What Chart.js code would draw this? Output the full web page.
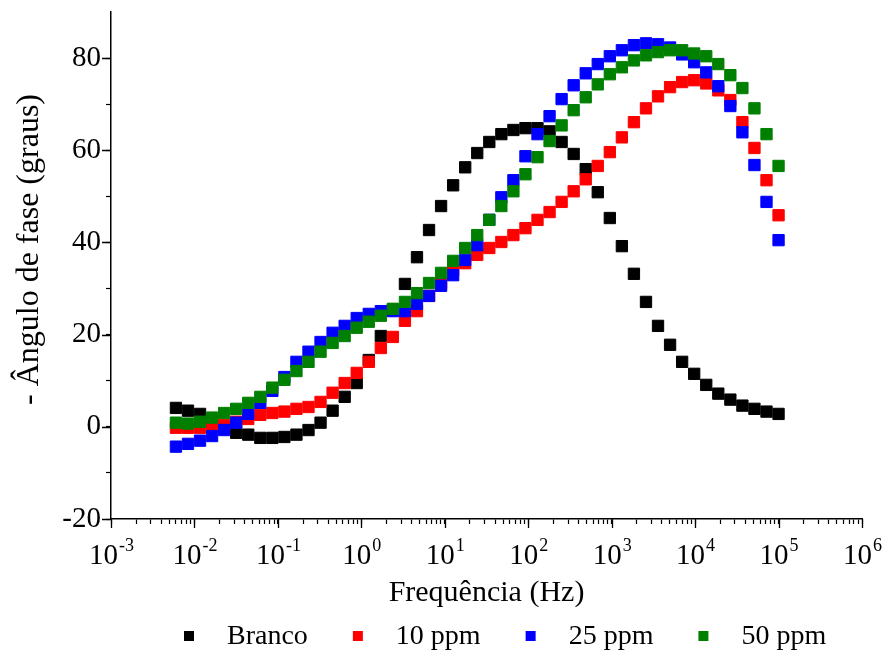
<!DOCTYPE html>
<html lang="pt">
<head>
    <meta charset="UTF-8">
    <title>Ângulo de fase x Frequência</title>
    <script src="https://cdn.jsdelivr.net/npm/chart.js"></script>
    <style>
        body {
            margin: 0;
            background-color: #ffffff;
        }
        #wrap {
            width: 885px;
            height: 653px;
        }
    </style>
</head>
<body>
    <div id="wrap">
        <canvas id="faseChart"></canvas>
    </div>

    <script>
        // frequencias da varredura (Hz), de 100 kHz ate 6 mHz
        const freqHz = [
            100000, 71707, 51420, 36872, 26440, 18959, 13595, 9749, 6990, 5013,
            3594, 2578, 1848, 1325, 950.4, 681.5, 488.7, 350.4, 251.3, 180.2,
            129.2, 92.65, 66.44, 47.64, 34.16, 24.49, 17.57, 12.60, 9.032, 6.477,
            4.644, 3.330, 2.388, 1.712, 1.228, 0.8805, 0.6314, 0.4527, 0.3246, 0.2328,
            0.1669, 0.1197, 0.08584, 0.06155, 0.04414, 0.03165, 0.02270, 0.01627, 0.01167, 0.008368,
            0.006
        ];

        // - angulo de fase (graus) lido para cada frequencia
        const branco = [
            2.8, 3.3, 3.9, 4.6, 5.9, 7.2, 9.1, 11.5, 14.1, 17.8,
            21.9, 27.1, 33.2, 39.2, 45.3, 50.9, 55.9, 59.2, 61.8, 64.1,
            64.8, 64.8, 64.4, 63.5, 61.8, 59.4, 56.3, 52.4, 47.9, 42.7,
            36.8, 31.0, 25.4, 19.7, 14.5, 9.5, 6.5, 3.5, 0.9, -0.7,
            -1.7, -2.2, -2.4, -2.4, -1.7, -1.3, -0.2, 1.2, 2.8, 3.5,
            4.1
        ];
        const ppm10 = [
            45.9, 53.5, 60.5, 66.1, 70.9, 73.0, 74.5, 75.2, 74.8, 73.7,
            71.7, 69.1, 66.1, 62.8, 59.6, 56.6, 53.7, 51.1, 48.8, 46.6,
            44.9, 43.1, 41.6, 40.1, 38.8, 37.3, 35.5, 34.0, 31.2, 28.4,
            25.1, 23.0, 19.5, 17.1, 14.1, 11.7, 9.5, 7.4, 5.4, 4.3,
            3.9, 3.3, 3.0, 2.6, 1.7, 1.1, 0.4, 0.0, -0.2, -0.2,
            -0.2
        ];
        const ppm25 = [
            40.5, 48.8, 56.8, 63.9, 69.6, 73.9, 76.9, 79.1, 80.8, 82.3,
            83.0, 83.2, 82.8, 81.7, 80.4, 78.7, 76.7, 74.1, 71.1, 67.4,
            63.5, 58.7, 53.5, 49.8, 44.9, 39.4, 36.2, 32.9, 30.6, 28.4,
            26.7, 25.1, 25.1, 25.1, 24.5, 23.6, 21.9, 20.4, 18.4, 16.3,
            14.1, 10.8, 7.8, 5.2, 2.8, 0.9, -0.7, -2.0, -3.0, -3.7,
            -4.3
        ];
        const ppm50 = [
            56.6, 63.5, 69.1, 73.5, 76.3, 78.7, 80.4, 81.0, 81.7, 81.7,
            81.3, 80.6, 79.5, 78.0, 76.5, 74.3, 71.5, 68.7, 65.4, 62.0,
            58.5, 54.8, 51.1, 47.9, 44.9, 41.6, 38.8, 36.0, 33.4, 31.2,
            29.0, 27.1, 25.6, 24.1, 22.8, 21.5, 19.7, 18.2, 16.3, 14.1,
            12.1, 10.2, 8.5, 6.5, 5.2, 3.9, 3.0, 2.0, 1.1, 0.7,
            0.9
        ];

        const seriesNames = ['Branco', '10 ppm', '25 ppm', '50 ppm'];
        const seriesColors = ['#000000', '#ff0000', '#0000ff', '#008000'];

        const xDecades = [-3, -2, -1, 0, 1, 2, 3, 4, 5, 6];
        const yTickValues = [-20, -10, 0, 10, 20, 30, 40, 50, 60, 70, 80];
        const yLabelValues = [-20, 0, 20, 40, 60, 80];
        const yTitle = '- Ângulo de fase (graus)';

        const serif = "'Liberation Serif', 'Times New Roman', serif";
        Chart.defaults.font.family = serif;
        Chart.defaults.color = '#000';

        function toPoints(values) {
            return values.map((v, i) => ({ x: freqHz[i], y: v }));
        }

        // rotulos 10^n, ticks maiores e titulo do eixo y
        const axisText = {
            id: 'axisText',
            afterDraw(chart) {
                const { ctx, chartArea } = chart;
                const x = chart.scales.x;
                const y = chart.scales.y;
                const base = x.top + 45;
                ctx.save();

                // ticks principais mais longos
                ctx.strokeStyle = '#000';
                ctx.lineWidth = 1.3;
                ctx.beginPath();
                xDecades.forEach(e => {
                    const px = Math.round(x.getPixelForValue(Math.pow(10, e))) + 0.5;
                    ctx.moveTo(px, x.top);
                    ctx.lineTo(px, x.top + 9);
                });
                yLabelValues.forEach(v => {
                    const py = Math.round(y.getPixelForValue(v)) + 0.5;
                    ctx.moveTo(y.right, py);
                    ctx.lineTo(y.right - 9, py);
                });
                ctx.stroke();

                ctx.fillStyle = '#000';
                ctx.textAlign = 'left';
                ctx.textBaseline = 'alphabetic';
                xDecades.forEach(e => {
                    const px = x.getPixelForValue(Math.pow(10, e));
                    const exp = String(e);
                    ctx.font = '29px ' + serif;
                    const wb = ctx.measureText('10').width;
                    ctx.font = '18px ' + serif;
                    const we = ctx.measureText(exp).width;
                    const left = px - (wb + we) / 2;
                    ctx.font = '29px ' + serif;
                    ctx.fillText('10', left, base);
                    ctx.font = '18px ' + serif;
                    ctx.fillText(exp, left + wb + 1, base - 13);
                });

                // titulo vertical, um pouco acima do centro como no original
                ctx.translate(30, (chartArea.top + chartArea.bottom) / 2 - 16);
                ctx.rotate(-Math.PI / 2);
                ctx.font = '32px ' + serif;
                ctx.textAlign = 'center';
                ctx.textBaseline = 'middle';
                ctx.fillText(yTitle, 0, 0);
                ctx.restore();
            }
        };

        // legenda em linha abaixo do titulo do eixo x
        const bottomLegend = {
            id: 'bottomLegend',
            afterDraw(chart) {
                const { ctx, chartArea } = chart;
                const box = 10, gap = 43, spacing = 45;
                ctx.save();
                ctx.font = '28px ' + serif;
                ctx.textBaseline = 'middle';
                ctx.textAlign = 'left';
                let cx = chartArea.left + 73;
                const cy = chart.height - 17;
                seriesNames.forEach((n, k) => {
                    ctx.fillStyle = seriesColors[k];
                    ctx.fillRect(cx, cy - box / 2, box, box);
                    ctx.fillStyle = '#000';
                    ctx.fillText(n, cx + gap, cy + 1);
                    cx += gap + ctx.measureText(n).width + spacing;
                });
                ctx.restore();
            }
        };

        const ctx = document.getElementById('faseChart').getContext('2d');
        const chartInstance = new Chart(ctx, {
            type: 'scatter',
            data: {
                datasets: [branco, ppm10, ppm25, ppm50].map((vals, k) => ({
                    label: seriesNames[k],
                    data: toPoints(vals),
                    backgroundColor: seriesColors[k],
                    borderColor: seriesColors[k],
                    borderWidth: 1,
                    pointStyle: 'rect',
                    pointRadius: 8,
                    pointHoverRadius: 8,
                    order: 4 - k
                }))
            },
            options: {
                responsive: true,
                maintainAspectRatio: false,
                animation: false,
                events: [],
                layout: {
                    padding: { top: 12, right: 23, bottom: 0, left: 0 }
                },
                plugins: {
                    legend: { display: false },
                    tooltip: { enabled: false }
                },
                scales: {
                    x: {
                        type: 'logarithmic',
                        min: 1e-3,
                        max: 1e6,
                        afterBuildTicks(scale) {
                            const ticks = [];
                            xDecades.forEach(e => {
                                for (let m = 1; m <= 9; m++) {
                                    const v = m * Math.pow(10, e);
                                    if (v <= 1e6) ticks.push({ value: v });
                                }
                            });
                            scale.ticks = ticks;
                        },
                        afterFit(scale) {
                            scale.height = 134;
                            scale.paddingLeft = 0;
                            scale.paddingRight = 0;
                        },
                        border: { color: '#000', width: 1.5 },
                        grid: {
                            drawOnChartArea: false,
                            tickLength: 5,
                            tickColor: '#000',
                            tickWidth: 1.2
                        },
                        ticks: { display: false },
                        title: {
                            display: true,
                            text: 'Frequência (Hz)',
                            color: '#000',
                            font: { size: 30 },
                            padding: { top: 0, bottom: 42 }
                        }
                    },
                    y: {
                        min: -20,
                        max: 90,
                        afterBuildTicks(scale) {
                            scale.ticks = yTickValues.map(v => ({ value: v }));
                        },
                        afterFit(scale) {
                            scale.width = 111;
                            scale.paddingTop = 0;
                            scale.paddingBottom = 0;
                        },
                        border: { color: '#000', width: 1.5 },
                        grid: {
                            drawOnChartArea: false,
                            tickLength: 5,
                            tickColor: '#000',
                            tickWidth: 1.2
                        },
                        ticks: {
                            color: '#000',
                            font: { size: 29 },
                            padding: 5,
                            callback: v => yLabelValues.includes(v) ? v : ''
                        },
                        title: { display: false }
                    }
                }
            },
            plugins: [axisText, bottomLegend]
        });
    </script>
</body>
</html>
